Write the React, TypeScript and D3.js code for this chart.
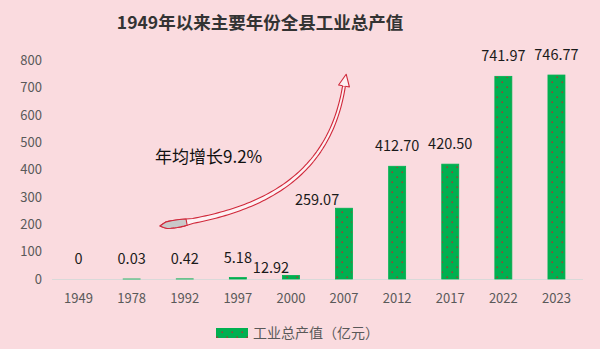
import React from "react";
import * as d3 from "d3";

const categories = ["1949", "1978", "1992", "1997", "2000", "2007", "2012", "2017", "2022", "2023"];
const values = [0, 0.03, 0.42, 5.18, 12.92, 259.07, 412.7, 420.5, 741.97, 746.77];
const valueLabels = ["0", "0.03", "0.42", "5.18", "12.92", "259.07", "412.70", "420.50", "741.97", "746.77"];
const yTicks = [0, 100, 200, 300, 400, 500, 600, 700, 800];
// manual label nudges (px) as in the reference
const labelDx = [0, 0, 0, 0, -20, -27, 0, 0, 0, 0];
const labelDy = [0, 0, 0, 0, 12, 12, 0, 0, 0, 0];

const title = "1949年以来主要年份全县工业总产值";
const seriesName = "工业总产值（亿元）";
const annotation = "年均增长9.2%";

const W = 600, H = 349;
const BG = "#fadbdf";
const GREEN = "#00b050";
const FONT = "'Noto Sans CJK SC', 'Noto Sans', sans-serif";

export default function App() {
  const x = d3.scaleBand<string>().domain(categories).range([52, 583]).paddingInner(0.68).paddingOuter(0.34);
  const y = d3.scaleLinear().domain([0, 800]).range([279, 60.5]);

  // annotation arrow
  const P0: [number, number] = [160, 226], C1: [number, number] = [250, 215], C2: [number, number] = [328, 185], P3: [number, number] = [344, 86];
  const bez = (t: number) => {
    const u = 1 - t;
    return [
      u * u * u * P0[0] + 3 * u * u * t * C1[0] + 3 * u * t * t * C2[0] + t * t * t * P3[0],
      u * u * u * P0[1] + 3 * u * u * t * C1[1] + 3 * u * t * t * C2[1] + t * t * t * P3[1],
    ];
  };
  const N = 80;
  const upper: [number, number][] = [], lower: [number, number][] = [];
  for (let i = 0; i <= N; i++) {
    const t = i / N;
    const [px, py] = bez(t);
    const [ax, ay] = bez(Math.min(1, t + 0.01));
    const [bx, by] = bez(Math.max(0, t - 0.01));
    let dx = ax - bx, dy = ay - by;
    const len = Math.hypot(dx, dy) || 1;
    dx /= len; dy /= len;
    const nx = -dy, ny = dx;
    let w = 2.6 - 1.2 * t;
    if (t < 0.12) w = 2.6 + 1.2 * Math.sin((t / 0.12) * Math.PI) ;
    if (t < 0.02) w *= t / 0.02;
    upper.push([px + nx * w, py + ny * w]);
    lower.push([px - nx * w, py - ny * w]);
  }
  const ribbon = d3.line()([...upper, ...[...lower].reverse()]) + "Z";
  const k = 9;
  const tail = d3.line()([...upper.slice(0, k), ...lower.slice(0, k).reverse()]) + "Z";
  // arrowhead
  const [ex, ey] = bez(1);
  const [qx, qy] = bez(0.97);
  let ux = ex - qx, uy = ey - qy;
  const ul = Math.hypot(ux, uy);
  ux /= ul; uy /= ul;
  const nx = -uy, ny = ux;
  const tip: [number, number] = [ex + ux * 12, ey + uy * 12];
  const head = d3.line()([
    [ex + nx * 1.4, ey + ny * 1.4],
    [ex + nx * 5.5, ey + ny * 5.5],
    tip,
    [ex - nx * 5.5, ey - ny * 5.5],
    [ex - nx * 1.4, ey - ny * 1.4],
  ]);

  return (
    <svg width={W} height={H} style={{ position: "absolute", left: 0, top: 0, display: "block" }} fontFamily={FONT}>
      <defs>
        <pattern id="dots" patternUnits="userSpaceOnUse" width={10} height={10}>
          <rect width={10} height={10} fill={GREEN} />
          <rect x={1.5} y={1.5} width={1.4} height={1.4} fill="#c0262d" />
          <rect x={6.5} y={6.5} width={1.4} height={1.4} fill="#c0262d" />
        </pattern>
      </defs>
      <rect width={W} height={H} fill={BG} />
      <text x={260} y={29} textAnchor="middle" fontSize={17.5} fontWeight="bold" fill="#333">{title}</text>

      {yTicks.map((t) => (
        <text key={t} x={42} y={y(t)} dy="0.35em" textAnchor="end" fontSize={13} fill="#595959">{t}</text>
      ))}
      <line x1={52} x2={583} y1={y(0) + 0.5} y2={y(0) + 0.5} stroke="#d9d9d9" strokeWidth={1} />
      {categories.map((c) => (
        <text key={c} x={(x(c) as number) + x.bandwidth() / 2} y={298} dy="0.35em" textAnchor="middle" fontSize={13} fill="#595959">{c}</text>
      ))}

      {values.map((v, i) => {
        const c = categories[i];
        const bx = x(c) as number;
        return v > 0 ? (
          <rect key={c} x={bx} y={y(v)} width={x.bandwidth()} height={y(0) - y(v)} fill="url(#dots)" stroke={GREEN} strokeWidth={0.8} />
        ) : null;
      })}
      {values.map((v, i) => {
        const c = categories[i];
        const cx = (x(c) as number) + x.bandwidth() / 2 + labelDx[i];
        return (
          <text key={"l" + c} x={cx} y={y(v) - 20 + labelDy[i]} dy="0.35em" textAnchor="middle" fontSize={14.5} fill="#1a1a1a">{valueLabels[i]}</text>
        );
      })}

      <path d={ribbon} fill="#fdf1f3" stroke="#d0283a" strokeWidth={1.1} strokeLinejoin="round" />
      <path d={tail} fill="#c9c9c9" stroke="#d0283a" strokeWidth={1.1} strokeLinejoin="round" />
      <path d={head as string} fill="#fdf1f3" stroke="#d0283a" strokeWidth={1.1} strokeLinejoin="round" />
      <text x={155} y={157} dy="0.35em" fontSize={17} fill="#111">{annotation}</text>

      <rect x={216} y={328} width={32} height={10} fill="url(#dots)" />
      <text x={253} y={333} dy="0.35em" fontSize={14} fill="#595959">{seriesName}</text>
    </svg>
  );
}
